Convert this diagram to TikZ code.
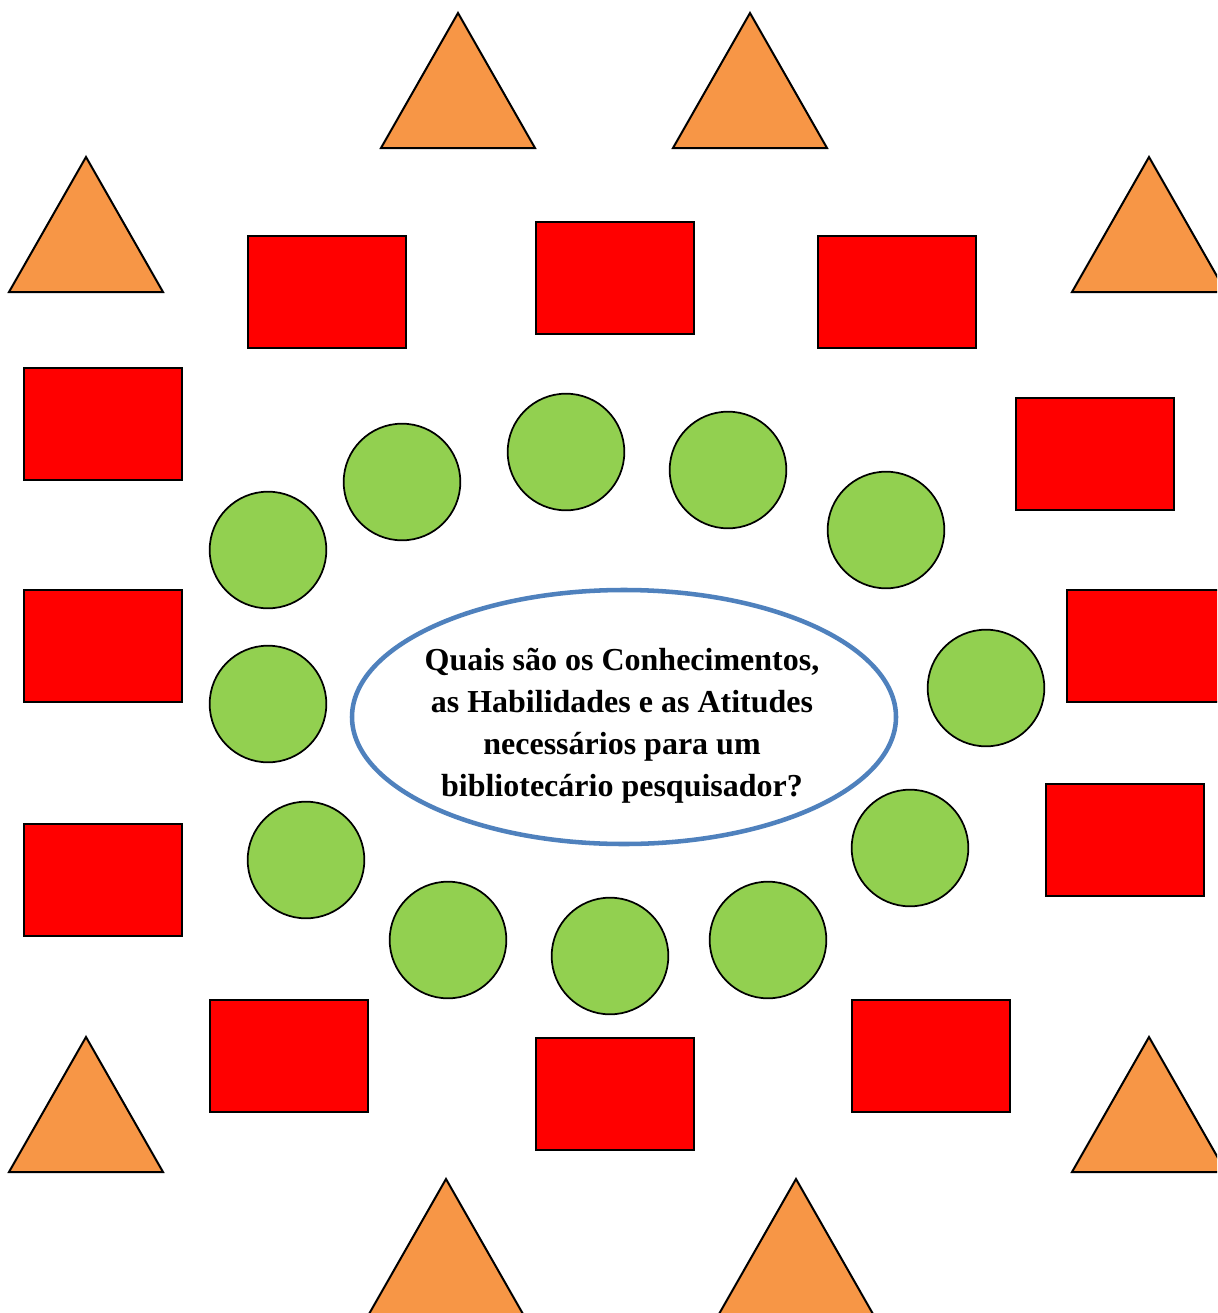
\documentclass[tikz,border=0pt]{standalone}
\usepackage{fontspec}
\setmainfont{Liberation Serif}
\usetikzlibrary{shapes.geometric}
\definecolor{triorange}{HTML}{F79646}
\definecolor{boxred}{HTML}{FF0000}
\definecolor{ballgreen}{HTML}{92D050}
\definecolor{ringblue}{HTML}{4F81BD}
\begin{document}
\begin{tikzpicture}[x=0.75pt,y=-0.75pt,
  tri/.style={fill=triorange,draw=black,line width=1.5pt,line join=miter},
  box/.style={rectangle,fill=boxred,draw=black,line width=1.6pt,minimum width=119pt,minimum height=84.5pt,inner sep=0pt},
  ball/.style={circle,fill=ballgreen,draw=black,line width=1.3pt,minimum size=87.5pt,inner sep=0pt},
  ring/.style={ellipse,draw=ringblue,fill=white,line width=3.4pt,minimum width=408pt,minimum height=190.5pt,inner sep=0pt},
  question/.style={align=center,font=\bfseries\fontsize{24}{31.5}\selectfont},
  tripic/.pic={\path[tri] (0,0) -- (77,135) -- (-77,135) -- cycle;}
]
\useasboundingbox (0,0) rectangle (1217,1313);
\clip (0,0) rectangle (1217,1313);
% triangles
\pic (t1) at (458,13) {tripic};
\pic (t2) at (750,13) {tripic};
\pic (t3) at (86,157) {tripic};
\pic (t4) at (1149,157) {tripic};
\pic (t5) at (86,1037) {tripic};
\pic (t6) at (1149,1037) {tripic};
\pic (t7) at (446,1179) {tripic};
\pic (t8) at (796,1179) {tripic};
% rectangles
\node[box] (r1) at (327,292) {};
\node[box] (r2) at (615,278) {};
\node[box] (r3) at (897,292) {};
\node[box] (r4) at (103,424) {};
\node[box] (r5) at (1095,454) {};
\node[box] (r6) at (103,646) {};
\node[box] (r7) at (1146,646) {};
\node[box] (r8) at (103,880) {};
\node[box] (r9) at (1125,840) {};
\node[box] (r10) at (289,1056) {};
\node[box] (r11) at (615,1094) {};
\node[box] (r12) at (931,1056) {};
% circles
\node[ball] (c1) at (268,550) {};
\node[ball] (c2) at (402,482) {};
\node[ball] (c3) at (566,452) {};
\node[ball] (c4) at (728,470) {};
\node[ball] (c5) at (886,530) {};
\node[ball] (c6) at (986,688) {};
\node[ball] (c7) at (910,848) {};
\node[ball] (c8) at (768,940) {};
\node[ball] (c9) at (610,956) {};
\node[ball] (c10) at (448,940) {};
\node[ball] (c11) at (306,860) {};
\node[ball] (c12) at (268,704) {};
% central ellipse
\node[ring] (ring) at (624,717) {};
\node[question] (q) at (622,726) {Quais são os Conhecimentos,\\as Habilidades e as Atitudes\\necessários para um\\bibliotecário pesquisador?};
\end{tikzpicture}
\end{document}
